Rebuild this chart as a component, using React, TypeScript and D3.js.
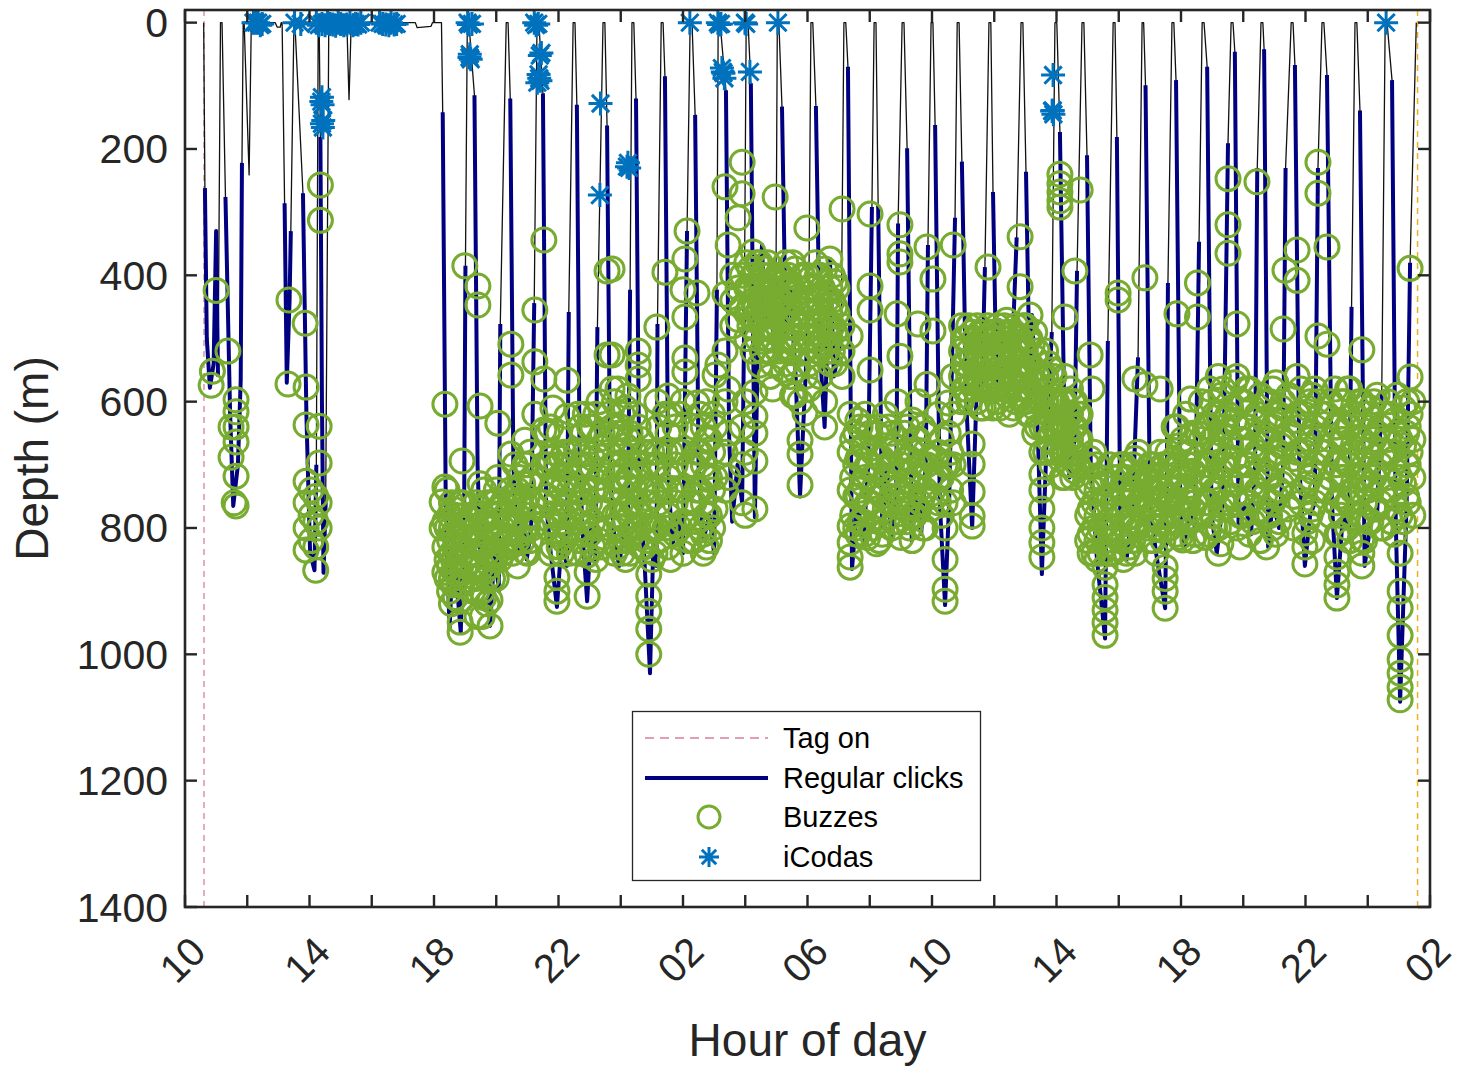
import React from "react";
import * as d3 from "d3";

// ---------- DATA ----------
const tickHours = [10, 12, 14, 16, 18, 20, 22, 24, 26, 28, 30, 32, 34, 36, 38, 40, 42, 44, 46, 48, 50];
const labelHours = [10, 14, 18, 22, 26, 30, 34, 38, 42, 46, 50];
const tickLabels = ["10", "14", "18", "22", "02", "06", "10", "14", "18", "22", "02"];
const depthTicks = [0, 200, 400, 600, 800, 1000, 1200, 1400];

const tagOnHour = 10.61;
const tagOffHour = 49.6;

// dives with regular clicks: [hour, depth]; clicks run from 2nd to 2nd-last vertex
const clickDives: number[][][] = [
  [[10.60,0],[10.64,262],[10.70,500],[10.80,578],[10.92,540],[11.00,330],[11.06,560],[11.14,0]],
  [[11.19,0],[11.30,276],[11.45,620],[11.55,765],[11.70,700],[11.79,566],[11.83,222],[11.87,0]],
  [[13.12,0],[13.20,286],[13.27,570],[13.36,440],[13.40,330],[13.50,0]],
  [[13.53,0],[13.79,270],[13.90,620],[14.02,840],[14.16,867],[14.22,700],[14.28,0]],
  [[14.31,0],[14.35,181],[14.40,600],[14.45,871],[14.52,760],[14.62,0]],
  [[18.24,0],[18.28,142],[18.38,780],[18.50,960],[18.62,820],[18.75,900],[18.86,965],[18.97,760],[19.01,385],[19.07,0]],
  [[19.12,0],[19.30,115],[19.40,700],[19.50,860],[19.65,780],[19.80,955],[19.95,830],[20.08,900],[20.13,477],[20.32,0]],
  [[20.38,0],[20.45,120],[20.55,700],[20.68,840],[20.82,760],[20.98,850],[21.12,800],[21.22,444],[21.31,0]],
  [[21.37,0],[21.50,112],[21.60,760],[21.75,840],[21.95,925],[22.10,820],[22.27,860],[22.33,458],[22.47,0]],
  [[22.53,0],[22.59,130],[22.68,700],[22.80,830],[22.92,916],[23.05,800],[23.18,850],[23.25,482],[23.43,0]],
  [[23.49,0],[23.56,163],[23.66,720],[23.80,820],[23.95,860],[24.10,800],[24.22,840],[24.30,423],[24.36,0]],
  [[24.42,0],[24.49,120],[24.60,760],[24.75,840],[24.94,1030],[25.05,820],[25.15,860],[25.18,477],[25.30,0]],
  [[25.36,0],[25.42,85],[25.52,700],[25.65,830],[25.85,780],[26.00,840],[26.13,330],[26.23,0]],
  [[26.29,0],[26.39,146],[26.50,700],[26.65,820],[26.85,780],[27.00,840],[27.09,423],[27.13,0]],
  [[27.19,0],[27.38,107],[27.48,650],[27.58,790],[27.75,700],[27.90,760],[27.97,455],[28.03,0]],
  [[28.09,0],[28.18,96],[28.25,480],[28.31,783],[28.42,450],[28.54,352],[28.62,480],[28.80,400],[28.92,520],[28.98,480],[29.03,0]],
  [[29.08,0],[29.18,133],[29.30,490],[29.45,420],[29.62,560],[29.76,750],[29.90,600],[30.04,450],[30.11,0]],
  [[30.17,0],[30.27,132],[30.40,520],[30.55,640],[30.72,374],[30.85,560],[31.00,520],[31.08,500],[31.17,0]],
  [[31.23,0],[31.30,70],[31.43,865],[31.60,760],[31.80,820],[31.95,700],[32.07,292],[32.14,0]],
  [[32.20,0],[32.27,289],[32.40,800],[32.55,700],[32.70,820],[32.85,760],[32.91,318],[33.04,0]],
  [[33.10,0],[33.20,199],[33.35,820],[33.50,740],[33.65,810],[33.80,700],[33.87,352],[33.97,0]],
  [[34.03,0],[34.10,162],[34.25,760],[34.42,922],[34.55,760],[34.74,309],[34.81,0]],
  [[34.87,0],[34.96,220],[35.10,600],[35.29,800],[35.45,560],[35.60,600],[35.70,387],[35.83,0]],
  [[35.89,0],[35.96,268],[36.08,600],[36.18,471],[36.35,600],[36.55,560],[36.72,340],[36.86,0]],
  [[36.92,0],[37.02,236],[37.15,600],[37.21,463],[37.40,650],[37.53,873],[37.70,640],[37.85,490],[37.95,0]],
  [[38.01,0],[38.11,173],[38.25,620],[38.42,720],[38.58,660],[38.66,393],[38.82,0]],
  [[38.88,0],[38.98,210],[39.10,700],[39.30,850],[39.56,975],[39.65,504],[39.82,0]],
  [[39.88,0],[39.94,181],[40.05,800],[40.25,850],[40.45,760],[40.62,530],[40.75,0]],
  [[40.80,0],[40.86,99],[41.00,760],[41.20,840],[41.49,927],[41.55,700],[41.58,412],[41.71,0]],
  [[41.77,0],[41.84,91],[41.98,780],[42.13,830],[42.30,760],[42.45,800],[42.58,347],[42.68,0]],
  [[42.74,0],[42.84,70],[42.98,780],[43.15,840],[43.35,760],[43.51,191],[43.61,0]],
  [[43.67,0],[43.73,46],[43.85,800],[44.05,760],[44.25,810],[44.38,700],[44.45,230],[44.57,0]],
  [[44.63,0],[44.67,42],[44.80,830],[44.95,760],[45.15,800],[45.28,700],[45.36,230],[45.54,0]],
  [[45.60,0],[45.66,67],[45.80,700],[45.98,860],[46.15,780],[46.30,760],[46.40,230],[46.53,0]],
  [[46.59,0],[46.69,83],[46.85,760],[47.01,911],[47.20,780],[47.40,800],[47.48,450],[47.59,0]],
  [[47.65,0],[47.75,139],[47.90,860],[48.10,790],[48.30,780],[48.45,585],[48.56,0]],
  [[48.62,0],[48.78,91],[48.90,790],[49.04,1075],[49.25,760],[49.36,380],[49.56,0]],
];

// dives / surface excursions without clicks
const silentDives: number[][][] = [
  [[11.90,0],[12.06,241],[12.13,0]],
  [[12.90,0],[12.96,7],[13.06,7],[13.09,0]],
  [[15.20,0],[15.27,122],[15.34,0]],
  [[17.40,0],[17.46,8],[17.90,6],[17.95,0]],
];

// buzzes: [hour, depth1, depth2, ...]
const buzzColumns: number[][] = [
  [10.84, 574], [10.88, 552], [11.00, 424], [11.38, 520], [11.48, 640, 688], [11.58, 760],
  [11.64, 597, 616, 640, 664, 718, 765],
  [13.31, 572], [13.34, 439], [13.86, 476],
  [13.89, 577, 637, 726, 760, 800, 835], [14.05, 740, 780, 820], [14.20, 750, 790, 830, 867],
  [14.31, 639, 697, 760, 800], [14.35, 257, 313],
  [18.26, 759, 800], [18.35, 604, 735, 790, 830, 870], [18.50, 780, 820, 860, 900],
  [18.62, 770, 810, 850, 890], [18.75, 790, 830, 870], [18.84, 916, 949, 965],
  [18.90, 694, 760, 800, 840, 889], [18.99, 385, 780, 820],
  [19.35, 760, 800, 840, 880], [19.41, 417, 447], [19.48, 607, 730, 770, 810],
  [19.60, 740, 790, 830, 870, 910], [19.80, 800, 860, 914, 955], [19.95, 760, 810, 850],
  [20.05, 634, 720, 780, 820], [20.20, 760, 800, 840],
  [20.45, 740, 790, 830], [20.47, 509, 558, 683], [20.60, 700, 750, 790], [20.75, 720, 760, 810],
  [20.92, 661, 700, 760, 800, 838], [21.08, 680, 730, 780, 820], [21.24, 455, 537, 620],
  [21.53, 344, 564, 645, 700, 760], [21.82, 610, 680, 730, 780, 830],
  [21.95, 700, 760, 810, 878, 900, 916], [22.10, 690, 740, 790, 840],
  [22.27, 566, 623, 700, 760, 810], [22.40, 720, 780],
  [22.62, 620, 680, 740, 790, 840], [22.80, 650, 700, 760, 810], [22.92, 720, 780, 843, 870, 908],
  [23.10, 640, 690, 740, 790, 830], [23.30, 600, 660, 720, 770, 820],
  [23.56, 393, 526], [23.72, 390, 526, 580, 640, 700], [23.91, 580, 650, 720, 780, 830],
  [24.05, 620, 680, 740, 800, 840], [24.23, 591, 660, 720, 770, 820], [24.35, 700, 760, 810],
  [24.56, 520, 542, 564, 640, 700, 760, 800], [24.75, 680, 740, 790, 830],
  [24.90, 760, 800, 873, 908, 932, 960, 1000], [25.10, 700, 750, 800, 840],
  [25.16, 482, 600, 680, 740, 800],
  [25.42, 395, 620, 680, 740, 800], [25.52, 591, 650, 720, 780, 830], [25.75, 640, 700, 760, 810],
  [26.00, 423, 600, 680, 740, 790, 840], [26.06, 374, 466, 531, 553], [26.13, 330],
  [26.45, 428, 602, 680, 740, 790], [26.65, 640, 700, 760, 810, 840], [26.85, 660, 720, 780, 820],
  [27.03, 558, 640, 720, 770], [27.12, 542],
  [27.35, 260, 430, 520, 600, 680, 740], [27.45, 352, 580, 650, 720], [27.77, 309, 420, 470],
  [27.90, 221, 271, 400, 450, 640, 700, 760], [28.00, 600, 680, 780],
  [28.15, 390, 420, 450, 480], [28.25, 363, 400, 440, 470, 520], [28.31, 585, 623, 650, 694, 770],
  [28.47, 380, 410, 440, 470, 542], [28.63, 390, 430, 460, 500], [28.80, 400, 440, 480, 520, 560],
  [28.96, 276, 410, 450, 490],
  [29.15, 400, 440, 470], [29.30, 380, 420, 460, 500, 540], [29.45, 420, 450, 480, 520, 560],
  [29.60, 390, 430, 470, 510, 550, 590], [29.76, 600, 661, 683, 732], [29.92, 480, 520, 560, 618],
  [29.98, 325, 400, 440],
  [30.25, 380, 420, 460, 500], [30.40, 400, 440, 480, 520, 560], [30.55, 390, 430, 470, 510, 600, 640],
  [30.72, 374, 420, 460, 500, 540], [30.88, 410, 450, 490, 540], [31.11, 295, 480, 520, 560],
  [31.37, 496, 620, 680, 740, 797, 823, 846, 862], [31.55, 650, 700, 750, 800], [31.69, 640, 690, 740, 790],
  [31.85, 620, 670, 720, 770, 810], [32.01, 303, 417, 455, 550, 650, 700, 760],
  [32.30, 640, 690, 740, 790, 820], [32.50, 620, 670, 720, 770], [32.70, 650, 700, 750, 800],
  [32.88, 461, 600, 680, 740, 790], [32.97, 320, 366, 379, 528],
  [33.20, 640, 690, 740, 790], [33.36, 629, 680, 730, 780, 820], [33.55, 477, 600, 660, 720, 770],
  [33.70, 640, 700, 750, 800], [33.84, 355, 573, 650, 700],
  [34.03, 406, 488], [34.20, 620, 680, 720, 760], [34.42, 700, 760, 800, 850, 897, 916],
  [34.52, 602, 650, 700], [34.68, 352, 560, 620, 700, 760],
  [34.95, 480, 520, 560, 600], [35.10, 500, 540, 580], [35.29, 490, 530, 570, 667, 699, 743, 781, 797],
  [35.45, 480, 520, 560, 600], [35.65, 500, 540, 580, 610], [35.80, 387, 480, 530, 570],
  [35.95, 490, 530, 570, 610], [36.10, 480, 520, 560, 600], [36.25, 500, 540, 580],
  [36.40, 471, 510, 550, 590], [36.55, 490, 530, 570], [36.70, 480, 520, 560, 600], [36.83, 339, 418, 500, 540],
  [37.00, 480, 520, 560, 600], [37.15, 463, 500, 540, 580, 620], [37.30, 490, 530, 570, 610, 650],
  [37.53, 560, 600, 640, 680, 715, 740, 770, 800, 823, 846], [37.65, 520, 560, 600, 640, 680],
  [37.85, 550, 600, 650, 700],
  [38.11, 240, 255, 268, 282, 292], [38.27, 466, 560, 600, 640, 680, 720], [38.45, 580, 620, 660, 700],
  [38.59, 393, 600, 640, 680, 710], [38.76, 265, 620, 660],
  [39.08, 526, 690, 730, 770, 810, 840], [39.14, 580], [39.30, 700, 740, 780, 820, 850],
  [39.56, 730, 780, 820, 862, 890, 910, 930, 950, 970], [39.70, 700, 750, 800, 840],
  [39.98, 428, 439, 720, 770, 810], [40.15, 700, 740, 780, 820, 850], [40.35, 710, 750, 790, 830],
  [40.52, 564, 690, 740, 790, 840], [40.68, 720, 770],
  [40.84, 404, 573], [41.00, 700, 740, 780, 820], [41.20, 720, 760, 800, 840], [41.33, 580, 680, 740, 790],
  [41.49, 700, 750, 862, 880, 900, 927], [41.65, 700, 750, 800],
  [41.87, 461, 640, 700, 760, 810], [42.05, 660, 720, 780, 819], [42.30, 596, 680, 740, 790],
  [42.45, 700, 760, 810], [42.53, 412, 466, 650, 720],
  [42.85, 640, 700, 760, 810], [43.00, 600, 660, 720, 780], [43.20, 560, 620, 680, 740, 800, 840],
  [43.35, 580, 640, 700, 760], [43.51, 247, 320, 365, 620, 690],
  [43.80, 477, 560, 640, 700, 760, 800], [44.00, 600, 660, 720, 780], [44.20, 580, 640, 700, 760, 810],
  [44.44, 252, 620, 680, 740],
  [44.75, 600, 660, 720, 780, 830], [44.95, 580, 640, 700, 760, 800], [45.15, 620, 680, 740, 790],
  [45.28, 485, 600, 660], [45.34, 392],
  [45.73, 360, 408, 560, 620, 680], [45.98, 620, 680, 740, 808, 830, 857], [46.15, 600, 660, 720, 780],
  [46.30, 580, 640, 700, 760], [46.40, 221, 270, 496, 600, 660],
  [46.69, 355, 509, 620, 680, 740], [47.01, 640, 700, 760, 810, 846, 870, 890, 911],
  [47.15, 600, 660, 720, 780], [47.35, 580, 640, 700, 760, 800], [47.50, 620, 680, 740],
  [47.81, 518, 600, 660, 720, 780, 818, 840, 860], [48.00, 620, 680, 740, 790],
  [48.20, 600, 660, 720, 770], [48.40, 640, 700, 760, 800],
  [48.75, 620, 680, 740, 790], [49.04, 660, 720, 780, 840, 900, 927, 970, 1008, 1030, 1052, 1072],
  [49.25, 600, 650, 700, 750], [49.36, 389, 561, 620, 680],
];

// further buzzes inside the dense feeding clusters: [hour, depth1, depth2, ...]
const buzzColumnsDense: number[][] = [
  [18.42, 740, 800, 850, 880], [18.56, 760, 800, 840, 880, 920], [18.68, 780, 830, 870, 910],
  [18.80, 760, 810, 850, 890], [19.00, 820, 860], [19.25, 780, 820, 860, 900],
  [19.38, 820, 860, 900, 940], [19.55, 780, 820, 860, 900, 940], [19.70, 760, 800, 840, 880, 920],
  [19.88, 780, 840, 880], [20.00, 740, 790, 840, 880], [20.12, 770, 810, 850], [20.30, 780, 820],
  [20.52, 760, 800, 840], [20.68, 740, 780, 820, 860], [20.85, 730, 770, 820],
  [21.00, 700, 750, 800, 840], [21.16, 720, 760, 800],
  [21.65, 650, 700, 750, 800], [21.75, 640, 690, 740, 790, 840], [22.02, 650, 720, 780, 830],
  [22.18, 680, 730, 780, 820], [22.35, 680, 740, 800, 840], [22.70, 640, 700, 760, 820],
  [22.86, 620, 680, 740, 800], [23.00, 640, 700, 760, 810], [23.20, 620, 680, 740, 800, 850],
  [23.40, 650, 710, 770, 830], [23.62, 620, 680, 740, 800], [23.80, 600, 660, 720, 780, 840],
  [24.00, 640, 700, 760, 820], [24.15, 610, 670, 730, 790, 850], [24.30, 650, 720, 780, 840],
  [24.45, 620, 680, 740, 800], [24.65, 660, 720, 780, 830], [24.82, 700, 760, 820],
  [25.00, 680, 740, 800, 850], [25.22, 640, 700, 760, 820],
  [25.60, 620, 680, 740, 800, 850], [25.90, 620, 680, 740, 800], [26.20, 700, 760, 820],
  [26.35, 640, 700, 760, 820], [26.55, 620, 680, 740, 800], [26.75, 600, 660, 720, 780, 830],
  [26.95, 620, 680, 740, 800],
  [27.60, 400, 440, 480], [28.05, 380, 420, 460, 500], [28.38, 380, 420, 460, 500],
  [28.55, 400, 440, 480, 520], [28.72, 380, 420, 460, 500], [28.88, 420, 460, 500, 540, 580],
  [29.05, 400, 440, 480, 520], [29.22, 420, 460, 500, 550], [29.38, 400, 440, 480, 520],
  [29.52, 380, 420, 460, 500, 590], [29.68, 420, 460, 500, 540], [29.84, 400, 440, 480, 520],
  [30.05, 420, 460, 500, 540, 580], [30.32, 400, 440, 480, 520], [30.48, 420, 460, 500],
  [30.62, 440, 480, 520], [30.80, 400, 440, 480, 520], [30.95, 420, 460, 500],
  [31.45, 660, 720, 780], [31.62, 630, 690, 750, 810], [31.78, 670, 730, 790],
  [31.93, 640, 700, 760, 815], [32.10, 680, 740, 800], [32.22, 650, 710, 770, 825],
  [32.40, 690, 750, 810], [32.60, 640, 700, 760], [32.78, 670, 730, 790],
  [33.00, 700, 760, 815], [33.12, 650, 710, 770], [33.28, 690, 750, 800],
  [33.45, 660, 720, 780], [33.62, 700, 760], [33.78, 680, 740, 800],
  [33.95, 720, 770], [34.12, 690, 750], [34.30, 660, 720, 780], [34.60, 680, 740],
  [35.02, 500, 540, 580], [35.18, 480, 520, 560, 600], [35.37, 500, 540, 580],
  [35.55, 490, 530, 570, 610], [35.72, 500, 540, 580], [36.02, 500, 540, 580],
  [36.18, 490, 530, 570, 610], [36.32, 480, 520, 560], [36.48, 500, 540, 580, 620],
  [36.62, 490, 530, 570, 610], [36.77, 500, 540, 580], [36.92, 480, 520, 560, 600],
  [37.08, 500, 540, 580, 620], [37.22, 510, 550, 590], [37.38, 520, 560, 600, 640],
  [37.75, 540, 580, 620, 660], [37.92, 560, 600, 640, 680],
  [38.00, 600, 640, 680], [38.18, 600, 640, 680, 720], [38.35, 620, 660, 700],
  [38.52, 600, 640, 680, 720], [38.68, 620, 660, 700],
  [39.00, 700, 740, 780, 820], [39.20, 680, 720, 760, 800, 840], [39.40, 720, 760, 800, 840],
  [39.80, 720, 760, 800, 840], [40.05, 700, 740, 780, 820], [40.25, 720, 760, 800, 840],
  [40.45, 700, 740, 780, 820], [40.62, 680, 720, 760, 800], [40.92, 720, 760, 800],
  [41.10, 700, 740, 780, 820], [41.28, 720, 760, 800], [41.42, 700, 740, 780, 820],
  [41.58, 680, 720, 760, 800],
  [41.78, 640, 690, 740, 790], [41.95, 670, 720, 770, 815], [42.15, 620, 680, 740, 790],
  [42.22, 700, 760], [42.38, 650, 710, 770, 820], [42.65, 600, 660, 720, 780],
  [42.78, 640, 700, 760, 815], [42.92, 580, 640, 700, 760], [43.08, 620, 680, 740, 800],
  [43.28, 590, 650, 710, 770, 825], [43.42, 640, 700, 760], [43.60, 610, 670, 730, 790],
  [43.72, 570, 630, 690, 750], [43.90, 600, 660, 720, 780, 830], [44.10, 580, 640, 700, 760],
  [44.30, 610, 670, 730, 790], [44.55, 590, 650, 710, 770, 820], [44.68, 630, 690, 750],
  [44.85, 600, 660, 720, 780], [45.05, 570, 630, 690, 750, 810], [45.22, 610, 670, 730],
  [45.45, 590, 650, 710, 770], [45.62, 630, 690, 750, 800], [45.85, 580, 640, 700, 760],
  [46.05, 610, 670, 730, 790], [46.22, 590, 650, 710, 770, 820], [46.50, 620, 680, 740],
  [46.80, 600, 660, 720, 780], [46.95, 580, 640, 700, 760], [47.08, 630, 690, 750, 810],
  [47.25, 600, 660, 720], [47.42, 580, 640, 700, 760, 820], [47.58, 620, 680, 740],
  [47.72, 600, 660, 720, 780], [47.90, 640, 700, 760, 820], [48.10, 610, 670, 730, 790],
  [48.30, 590, 650, 710, 770], [48.50, 620, 680, 740, 800], [48.65, 600, 660, 720],
  [48.85, 630, 690, 750, 810], [48.95, 590, 650, 710, 770], [49.15, 610, 670, 730, 790],
  [49.30, 640, 700, 760], [49.45, 600, 660, 720, 780],
];

// iCodas: [hour, depth]
const icodas: number[][] = [
  [12.20, 0], [12.28, 0], [12.35, 0], [12.42, 4], [12.48, 2], [13.52, 0], [13.72, 2],
  [14.22, 0], [14.30, 4], [14.40, 2], [14.50, 4], [14.58, 0], [14.66, 2], [14.75, 3], [14.84, 5],
  [14.92, 0], [15.00, 2], [15.10, 4], [15.20, 3], [15.30, 0], [15.40, 4], [15.48, 2], [15.56, 3], [15.65, 0],
  [14.40, 118], [14.42, 130], [14.38, 125], [14.40, 160], [14.43, 166], [14.44, 155],
  [16.25, 0], [16.35, 2], [16.45, 3], [16.55, 4], [16.62, 0], [16.72, 3], [16.80, 2],
  [19.08, 0], [19.12, 3], [19.22, 2], [19.15, 50], [19.14, 55], [19.18, 58],
  [21.22, 0], [21.28, 4], [21.35, 2], [21.45, 48], [21.40, 52], [21.38, 88], [21.36, 82], [21.42, 92], [21.32, 95],
  [23.35, 128], [23.33, 273], [24.23, 222], [24.20, 228], [24.27, 230],
  [26.22, 0], [27.12, 0], [27.16, 3], [27.22, 2], [27.28, 78], [27.25, 72], [27.30, 80], [27.33, 88],
  [27.99, 0], [28.03, 2], [28.15, 78], [29.05, 0],
  [37.89, 83], [37.88, 139], [37.86, 140], [37.90, 145], [48.59, 0],
];

const legendLabels = ["Tag on", "Regular clicks", "Buzzes", "iCodas"];

// ---------- STYLE ----------
const FONT = "'Liberation Sans', Arial, Helvetica, sans-serif";
const AX = "#262626";
const NAVY = "#000080";
const GREEN = "#77AC30";
const BLUE = "#0072BD";
const PINK = "#d9809c";
const YELLOW = "#EDB120";

function starPath(cx: number, cy: number, r: number) {
  const k = r * 0.72;
  return `M${cx - r},${cy}L${cx + r},${cy}M${cx},${cy - r}L${cx},${cy + r}` +
    `M${cx - k},${cy - k}L${cx + k},${cy + k}M${cx - k},${cy + k}L${cx + k},${cy - k}`;
}

export default function App() {
  const L = 185, R = 1430, T = 10, B = 907;
  const x = d3.scaleLinear().domain([10, 50]).range([L, R]);
  const y = d3.scaleLinear().domain([-20, 1400]).range([T, B]);
  const line = d3.line<number[]>().x((p) => x(p[0])).y((p) => y(p[1]));

  const allDives = [...clickDives, ...silentDives].sort((a, b) => a[0][0] - b[0][0]);
  const profile = allDives.flat();
  const buzzes = [...buzzColumns, ...buzzColumnsDense].flatMap((c) => c.slice(1).map((d) => [c[0], d]));

  const tickLen = 12;
  const lg = { x: 632.5, y: 711.5, w: 348, h: 169 };
  const rowY = [738, 778, 817, 857];

  return (
    <svg width={1460} height={1067} viewBox="0 0 1460 1067"
      style={{ position: "absolute", left: 0, top: 0, background: "#fff" }}>
      <rect x={0} y={0} width={1460} height={1067} fill="#fff" />
      <line x1={x(tagOnHour)} x2={x(tagOnHour)} y1={T} y2={B} stroke={PINK} strokeWidth={1.3} strokeDasharray="6 5" />
      <line x1={x(tagOffHour)} x2={x(tagOffHour)} y1={T} y2={B} stroke={YELLOW} strokeWidth={1.5} strokeDasharray="6 5" />
      <path d={line(profile) || ""} fill="none" stroke="#111" strokeWidth={1.3} strokeLinejoin="round" />
      {clickDives.map((dv, i) => (
        <path key={"n" + i} d={line(dv.slice(1, -1)) || ""} fill="none" stroke={NAVY} strokeWidth={4}
          strokeLinejoin="round" strokeLinecap="butt" />
      ))}
      {buzzes.map((p, i) => (
        <circle key={"b" + i} cx={x(p[0])} cy={y(p[1])} r={12} fill="none" stroke={GREEN} strokeWidth={3} />
      ))}
      {icodas.map((p, i) => (
        <path key={"c" + i} d={starPath(x(p[0]), y(p[1]), 12)} stroke={BLUE} strokeWidth={3} fill="none" />
      ))}
      <rect x={L} y={T} width={R - L} height={B - T} fill="none" stroke={AX} strokeWidth={2.6} />
      {tickHours.map((h) => (
        <g key={"xt" + h}>
          <line x1={x(h)} x2={x(h)} y1={B} y2={B - tickLen} stroke={AX} strokeWidth={2.4} />
          <line x1={x(h)} x2={x(h)} y1={T} y2={T + tickLen} stroke={AX} strokeWidth={2.4} />
        </g>
      ))}
      {depthTicks.map((d) => (
        <g key={"yt" + d}>
          <line x1={L} x2={L + tickLen} y1={y(d)} y2={y(d)} stroke={AX} strokeWidth={2.4} />
          <line x1={R} x2={R - tickLen} y1={y(d)} y2={y(d)} stroke={AX} strokeWidth={2.4} />
          <text x={168} y={y(d) + 14.5} textAnchor="end" fontFamily={FONT} fontSize={41} fill={AX}>{d}</text>
        </g>
      ))}
      {labelHours.map((h, i) => (
        <text key={"xl" + h} transform={`translate(${x(h) + 13},${944}) rotate(-45)`} textAnchor="end"
          dominantBaseline="central" fontFamily={FONT} fontSize={40} fill={AX}>{tickLabels[i]}</text>
      ))}
      <text x={(L + R) / 2} y={1056} textAnchor="middle" fontFamily={FONT} fontSize={46} fill={AX}>Hour of day</text>
      <text transform={`translate(48,${(T + B) / 2}) rotate(-90)`} textAnchor="middle" fontFamily={FONT}
        fontSize={46} fill={AX}>Depth (m)</text>
      <rect x={lg.x} y={lg.y} width={lg.w} height={lg.h} fill="#fff" stroke={AX} strokeWidth={1.3} />
      <line x1={645} x2={768} y1={rowY[0]} y2={rowY[0]} stroke={PINK} strokeWidth={1.3} strokeDasharray="9 6" />
      <line x1={645} x2={768} y1={rowY[1]} y2={rowY[1]} stroke={NAVY} strokeWidth={4} />
      <circle cx={709} cy={rowY[2]} r={11} fill="none" stroke={GREEN} strokeWidth={3} />
      <path d={starPath(709, rowY[3], 10)} stroke={BLUE} strokeWidth={3} fill="none" />
      {legendLabels.map((t, i) => (
        <text key={t} x={783} y={rowY[i]} dominantBaseline="central" fontFamily={FONT} fontSize={29} fill="#000">{t}</text>
      ))}
    </svg>
  );
}
